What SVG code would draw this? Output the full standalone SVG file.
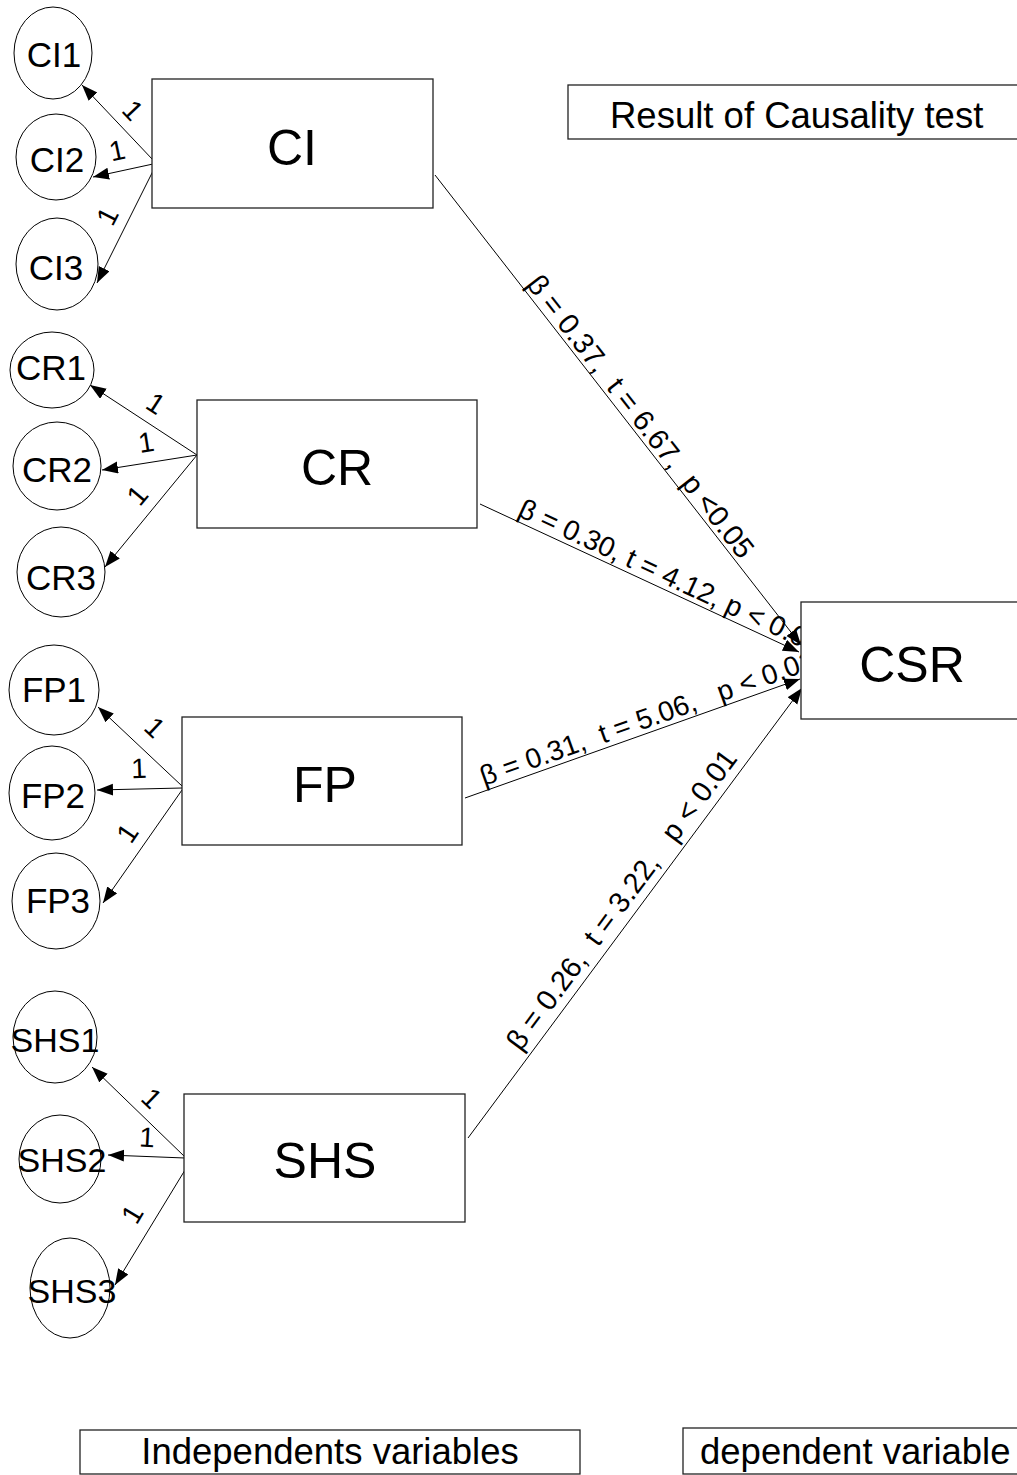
<svg xmlns="http://www.w3.org/2000/svg" width="1017" height="1475" viewBox="0 0 1017 1475">
<style>
text{font-family:"Liberation Sans",Arial,sans-serif;fill:#000;}
.box{fill:#fff;stroke:#222;stroke-width:1.3;}
.circ{fill:#fff;stroke:#000;stroke-width:1;}
.big{font-size:50px;text-anchor:middle;}
.ind{font-size:35px;text-anchor:middle;}
.shs{font-size:34px;text-anchor:middle;}
.cap{font-size:36.5px;}
.one{font-size:28px;text-anchor:middle;}
.lbl{font-size:28px;white-space:pre;}
.edge{stroke:#000;stroke-width:1;fill:none;marker-end:url(#ah);}
</style>
<defs>
<marker id="ah" markerUnits="userSpaceOnUse" markerWidth="17" markerHeight="13" refX="16" refY="6" orient="auto">
<path d="M0,0 L16,6 L0,12 z" fill="#000"/>
</marker>
</defs>
<rect width="1017" height="1475" fill="#fff"/>

<g id="connectors">
<line class="edge" x1="153" y1="160" x2="82" y2="85"/>
<line class="edge" x1="153" y1="164" x2="93" y2="177"/>
<line class="edge" x1="153" y1="171" x2="97" y2="283"/>
<line class="edge" x1="197" y1="455" x2="90" y2="385"/>
<line class="edge" x1="197" y1="455" x2="102" y2="470"/>
<line class="edge" x1="197" y1="455" x2="105" y2="567"/>
<line class="edge" x1="182" y1="786" x2="98" y2="707"/>
<line class="edge" x1="182" y1="788" x2="97" y2="790"/>
<line class="edge" x1="182" y1="790" x2="103" y2="903"/>
<line class="edge" x1="185" y1="1157" x2="92" y2="1067"/>
<line class="edge" x1="185" y1="1158" x2="108" y2="1155"/>
<line class="edge" x1="185" y1="1170" x2="115" y2="1285"/>
<line class="edge" x1="435" y1="175" x2="801" y2="645"/>
<line class="edge" x1="480" y1="504" x2="799" y2="652"/>
<line class="edge" x1="465" y1="798" x2="800" y2="679"/>
<line class="edge" x1="468" y1="1138" x2="802" y2="688"/>
<text class="one" transform="translate(133,110) rotate(46.6)" y="10">1</text>
<text class="one" transform="translate(117,150) rotate(-12)" y="10">1</text>
<text class="one" transform="translate(107,216) rotate(-63)" y="10">1</text>
<text class="one" transform="translate(156,403) rotate(33)" y="10">1</text>
<text class="one" transform="translate(146,442) rotate(-9)" y="10">1</text>
<text class="one" transform="translate(137,495) rotate(-50)" y="10">1</text>
<text class="one" transform="translate(155,727) rotate(43.6)" y="10">1</text>
<text class="one" transform="translate(139,768) rotate(-2)" y="10">1</text>
<text class="one" transform="translate(127,833) rotate(-56)" y="10">1</text>
<text class="one" transform="translate(152,1098) rotate(44)" y="10">1</text>
<text class="one" transform="translate(147,1137) rotate(3)" y="10">1</text>
<text class="one" transform="translate(132,1214) rotate(-59)" y="10">1</text>
<text class="lbl" transform="translate(435,175) rotate(52.1)" x="142" y="-4" style="font-size:29px">β = 0.37,  t = 6.67,  p &lt;0.05</text>
<text class="lbl" transform="translate(480,504) rotate(24.9)" x="38" y="-5">β = 0.30, t = 4.12, p &lt; 0.01</text>
<text class="lbl" transform="translate(465,798) rotate(-19.56)" x="22" y="-5">β = 0.31,  t = 5.06,   p &lt; 0.01</text>
<text class="lbl" transform="translate(468,1138) rotate(-53.4)" x="100" y="-9" style="font-size:29px">β = 0.26,  t = 3.22,   p &lt; 0.01</text>
</g>

<g id="node-CI"><rect class="box" x="152" y="79" width="281" height="129"/><text class="big" x="292" y="165">CI</text></g>
<g id="node-CR"><rect class="box" x="197" y="400" width="280" height="128"/><text class="big" x="337" y="485">CR</text></g>
<g id="node-FP"><rect class="box" x="182" y="717" width="280" height="128"/><text class="big" x="325" y="802">FP</text></g>
<g id="node-SHS"><rect class="box" x="184" y="1094" width="281" height="128"/><text class="big" x="325" y="1178">SHS</text></g>
<g id="node-CSR"><rect class="box" x="801" y="602" width="230" height="117"/><text class="big" x="912" y="682">CSR</text></g>

<g id="node-CI1"><ellipse class="circ" cx="53" cy="53" rx="39" ry="46"/><text class="ind" x="54" y="67">CI1</text></g>
<g id="node-CI2"><ellipse class="circ" cx="56" cy="157" rx="40" ry="43"/><text class="ind" x="57" y="172">CI2</text></g>
<g id="node-CI3"><ellipse class="circ" cx="57" cy="264" rx="41" ry="46"/><text class="ind" x="56" y="280">CI3</text></g>
<g id="node-CR1"><ellipse class="circ" cx="52" cy="370" rx="42" ry="38"/><text class="ind" x="51" y="380">CR1</text></g>
<g id="node-CR2"><ellipse class="circ" cx="57" cy="466" rx="44" ry="44"/><text class="ind" x="57" y="482">CR2</text></g>
<g id="node-CR3"><ellipse class="circ" cx="61" cy="572" rx="44" ry="45"/><text class="ind" x="61" y="590">CR3</text></g>
<g id="node-FP1"><ellipse class="circ" cx="54" cy="690" rx="45" ry="45"/><text class="ind" x="54" y="702">FP1</text></g>
<g id="node-FP2"><ellipse class="circ" cx="52" cy="793" rx="43" ry="47"/><text class="ind" x="53" y="808">FP2</text></g>
<g id="node-FP3"><ellipse class="circ" cx="56" cy="901" rx="44" ry="48"/><text class="ind" x="58" y="913">FP3</text></g>
<g id="node-SHS1"><ellipse class="circ" cx="55" cy="1037" rx="42" ry="46"/><text class="shs" x="55" y="1052">SHS1</text></g>
<g id="node-SHS2"><ellipse class="circ" cx="60" cy="1159" rx="41" ry="44"/><text class="shs" x="62" y="1172">SHS2</text></g>
<g id="node-SHS3"><ellipse class="circ" cx="70" cy="1288" rx="40" ry="50"/><text class="shs" x="72" y="1303">SHS3</text></g>

<g id="node-result"><rect class="box" x="568" y="85" width="470" height="54"/><text class="cap" x="610" y="128">Result of Causality test</text></g>
<g id="node-independents"><rect class="box" x="80" y="1430" width="500" height="44"/><text class="cap" x="330" y="1464" text-anchor="middle">Independents variables</text></g>
<g id="node-dependent"><rect class="box" x="683" y="1428" width="350" height="46"/><text class="cap" x="700" y="1464">dependent variable</text></g>
</svg>
